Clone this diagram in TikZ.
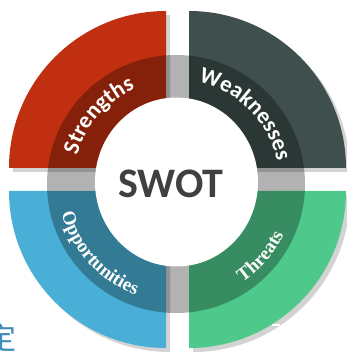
\documentclass[tikz,border=0pt]{standalone}
\usepackage{fontspec}
\newfontfamily\calfont{Carlito}
\newfontfamily\camfont{Liberation Serif}
\newfontfamily\cjkfont{Noto Sans CJK SC}
\usetikzlibrary{decorations.text, shadows, shapes.geometric}
\definecolor{swotred}{HTML}{BF2F10}
\definecolor{swotgrey}{HTML}{3F4F4D}
\definecolor{swotblue}{HTML}{4AAFD6}
\definecolor{swotgreen}{HTML}{4FC98B}
\definecolor{swottext}{HTML}{404040}
\definecolor{cnblue}{HTML}{3F8DB8}
\newcommand\sanslab{\calfont\bfseries\fontsize{23}{26}\selectfont}
\newcommand\seriflab{\camfont\bfseries\fontsize{19}{22}\selectfont}

\begin{document}
\begin{tikzpicture}[x=1pt, y=1pt, quad/.style={drop shadow={opacity=0.35, shadow xshift=4pt, shadow yshift=-4pt}}, hubnode/.style={ellipse, fill=white, minimum width=163pt, minimum height=169pt, inner sep=0pt}, arctext/.style={decorate, decoration={text along path, text align=center, text color=white, text={#1}}}]

    \useasboundingbox (0,0) rectangle (346,354);

    %Centres
    \coordinate (s) at (166,186);
    \coordinate (w) at (189,186);
    \coordinate (o) at (166,163);
    \coordinate (t) at (189,163);
    \coordinate (ring) at (176,170);
    \coordinate (txt) at (176.5,171);

    %Quadrants
    \fill[quad, swotred] (s) -- ++(-157,0) arc[start angle=180, end angle=90, radius=157] -- cycle;
    \fill[quad, swotgrey] (w) -- ++(0,157) arc[start angle=90, end angle=0, radius=157] -- cycle;
    \fill[quad, swotblue] (o) -- ++(-157,0) arc[start angle=180, end angle=270, radius=157] -- cycle;
    \fill[quad, swotgreen] (t) -- ++(157,0) arc[start angle=0, end angle=-90, radius=157] -- cycle;

    %Ring and hub
    \fill[black, opacity=0.3] (ring) circle[radius=129];
    \node[hubnode](hub) at (176.5,172) {};
    \node[text=swottext, font=\calfont\bfseries\fontsize{42}{42}\selectfont](swot) at (171,170.5) {SWOT};

    %Labels
    \path[arctext={|\sanslab|Strengths}] ([shift={(184:103)}]txt) arc[start angle=184, end angle=94, radius=103];
    \path[arctext={|\sanslab|Weaknesses}] ([shift={(90:103)}]txt) arc[start angle=90, end angle=0, radius=103];
    \path[arctext={|\seriflab|Opportunities}] ([shift={(177.5:119)}]txt) arc[start angle=177.5, end angle=267.5, radius=119];
    \path[arctext={|\seriflab|Threats}] ([shift={(274:119)}]txt) arc[start angle=274, end angle=364, radius=119];

    %Bits at the bottom
    \node[text=cnblue, font=\cjkfont\fontsize{30}{30}\selectfont](ding) at (1.5,15.5) {定};
    \draw[white, line width=1.2pt, dash pattern=on 8pt off 4pt] (272,29) -- (292,29);

\end{tikzpicture}
\end{document}
